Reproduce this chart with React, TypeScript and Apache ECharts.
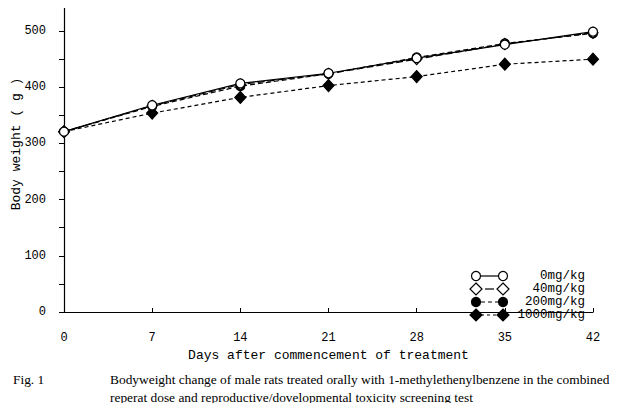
import React, { useEffect, useRef } from "react";
import * as echarts from "echarts";

const days = [0, 7, 14, 21, 28, 35, 42];
const dose0 = [321, 368, 407, 425, 452, 476, 499];
const dose40 = [321, 367, 405, 424, 450, 477, 497];
const dose200 = [321, 366, 402, 424, 453, 478, 496];
const dose1000 = [321, 354, 382, 403, 419, 441, 450];
const yTicks = [0, 100, 200, 300, 400, 500];
const legendLabels = ["0mg/kg", "40mg/kg", "200mg/kg", "1000mg/kg"];

const MONO = "'Liberation Mono', 'DejaVu Sans Mono', monospace";
const SERIF = "'Liberation Serif', 'DejaVu Serif', serif";

export default function App() {
  const ref = useRef<HTMLDivElement>(null);
  useEffect(() => {
    if (!ref.current) return;
    const chart = echarts.init(ref.current, undefined, { renderer: "svg" });

    const pair = (ys: number[]) => days.map((d, i) => [d, ys[i]]);

    const seriesDefs = [
      { name: legendLabels[3], data: dose1000, symbol: "diamond", size: [11, 12], fill: "#000", dash: [4, 3] as any, z: 2 },
      { name: legendLabels[2], data: dose200, symbol: "circle", size: 9, fill: "#000", dash: [5, 3] as any, z: 3 },
      { name: legendLabels[1], data: dose40, symbol: "diamond", size: [10, 11], fill: "#fff", dash: [7, 3] as any, z: 4 },
      { name: legendLabels[0], data: dose0, symbol: "circle", size: 9, fill: "#fff", dash: "solid" as any, z: 5 },
    ];

    const series = seriesDefs.map((s) => ({
      type: "line",
      name: s.name,
      data: pair(s.data),
      symbol: s.symbol,
      symbolSize: s.size,
      showSymbol: true,
      z: s.z,
      lineStyle: { color: "#000", width: 1.2, type: s.dash },
      itemStyle: { color: s.fill, borderColor: "#000", borderWidth: 1.2 },
      emphasis: { disabled: true },
    }));

    const legendY = [276, 289, 302, 315];
    const legendStyles = [
      { symbol: "circle", fill: "#fff", dash: null },
      { symbol: "diamond", fill: "#fff", dash: null },
      { symbol: "circle", fill: "#000", dash: [4, 3] },
      { symbol: "diamond", fill: "#000", dash: [3, 3] },
    ];
    const x1 = 476;
    const x2 = 503;
    const legendGraphics: any[] = [];
    legendStyles.forEach((ls, i) => {
      const y = legendY[i];
      if (i === 1) {
        legendGraphics.push({
          type: "line",
          shape: { x1: x1 + 9, y1: y, x2: x2 - 9, y2: y },
          style: { stroke: "#000", lineWidth: 1.2 },
        });
      } else {
        legendGraphics.push({
          type: "line",
          shape: { x1: x1 + 5, y1: y, x2: x2 - 5, y2: y },
          style: { stroke: "#000", lineWidth: 1.2, lineDash: ls.dash || undefined },
        });
      }
      [x1, x2].forEach((cx) => {
        if (ls.symbol === "circle") {
          legendGraphics.push({
            type: "circle",
            shape: { cx, cy: y, r: 4.5 },
            style: { fill: ls.fill, stroke: "#000", lineWidth: 1.2 },
          });
        } else {
          legendGraphics.push({
            type: "polygon",
            shape: { points: [[cx, y - 6], [cx + 6, y], [cx, y + 6], [cx - 6, y]] },
            style: { fill: ls.fill, stroke: "#000", lineWidth: 1.2 },
          });
        }
      });
      legendGraphics.push({
        type: "text",
        x: 585,
        y,
        style: {
          text: legendLabels[i],
          font: `12.5px ${MONO}`,
          lineHeight: 12,
          fill: "#000",
          align: "right",
          verticalAlign: "middle",
        },
      });
    });

    const option: any = {
      animation: false,
      backgroundColor: "#fff",
      grid: { left: 64, right: 32, top: 3, bottom: 99, containLabel: false },
      xAxis: {
        type: "value",
        min: 0,
        max: 42,
        interval: 7,
        offset: 13,
        axisLine: { show: true, lineStyle: { color: "#000", width: 1.2 } },
        axisTick: { show: true, inside: true, length: 4, lineStyle: { color: "#000" } },
        axisLabel: { color: "#000", fontFamily: MONO, fontSize: 12, margin: 7 },
        splitLine: { show: false },
        name: "Days after commencement of treatment",
        nameLocation: "middle",
        nameGap: 24,
        nameTextStyle: { color: "#000", fontFamily: MONO, fontSize: 13 },
      },
      yAxis: {
        type: "value",
        min: 0,
        max: 550,
        interval: 50,
        offset: 10,
        axisLine: { show: true, lineStyle: { color: "#000", width: 1.2 } },
        axisTick: { show: true, inside: false, length: 5, lineStyle: { color: "#000" } },
        axisLabel: {
          color: "#000",
          fontFamily: MONO,
          fontSize: 12,
          margin: 8,
          formatter: (v: number) => (yTicks.indexOf(v) >= 0 ? String(v) : ""),
        },
        splitLine: { show: false },
      },
      series,
      graphic: [
        {
          type: "text",
          x: 16,
          y: 144,
          rotation: Math.PI / 2,
          style: {
            text: "Body weight ( g )",
            font: `13px ${MONO}`,
            fill: "#000",
            align: "center",
            verticalAlign: "middle",
          },
        },
        ...legendGraphics,
        {
          type: "text",
          x: 13,
          y: 379,
          style: { text: "Fig. 1", font: `13.4px ${SERIF}`, fill: "#000", verticalAlign: "middle" },
        },
        {
          type: "text",
          x: 110,
          y: 379,
          style: {
            text: "Bodyweight change of male rats treated orally with 1-methylethenylbenzene in the combined",
            font: `13.4px ${SERIF}`,
            fill: "#000",
            verticalAlign: "middle",
          },
        },
        {
          type: "text",
          x: 110,
          y: 397,
          style: {
            text: "reperat dose and reproductive/dovelopmental toxicity screening test",
            font: `13.4px ${SERIF}`,
            fill: "#000",
            verticalAlign: "middle",
          },
        },
      ],
    };

    chart.setOption(option);
    return () => chart.dispose();
  }, []);

  return <div ref={ref} style={{ width: 625, height: 411, margin: -8 }} />;
}
